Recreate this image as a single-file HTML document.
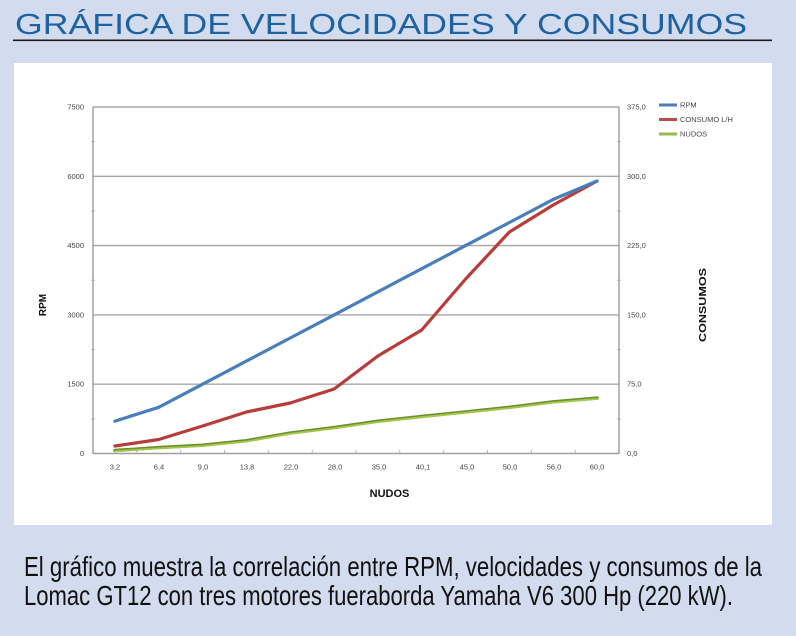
<!DOCTYPE html>
<html><head><meta charset="utf-8"><style>
html,body{margin:0;padding:0;background:#d2dcee;}
svg{display:block;}
</style></head><body>
<svg width="796" height="636" viewBox="0 0 796 636" xmlns="http://www.w3.org/2000/svg">
<rect x="0" y="0" width="796" height="636" fill="#d2dcee"/>
<text x="15" y="34" font-family="Liberation Sans, sans-serif" font-size="29" fill="#1f62a0" textLength="732" lengthAdjust="spacingAndGlyphs">GRÁFICA DE VELOCIDADES Y CONSUMOS</text>
<rect x="13" y="39.5" width="759" height="1.6" fill="#1a1a1a"/>
<rect x="14" y="63" width="758" height="462" fill="#ffffff"/>

<!-- gridlines -->
<g stroke="#a6a6a6" stroke-width="1.4">
<line x1="93" y1="107" x2="619" y2="107"/>
<line x1="93" y1="176.3" x2="619" y2="176.3"/>
<line x1="93" y1="245.6" x2="619" y2="245.6"/>
<line x1="93" y1="314.9" x2="619" y2="314.9"/>
<line x1="93" y1="384.2" x2="619" y2="384.2"/>
</g>
<!-- axes -->
<g stroke="#a0a0a0" stroke-width="1.5">
<line x1="93" y1="107" x2="93" y2="454"/>
<line x1="619" y1="107" x2="619" y2="454"/>
<line x1="93" y1="453.5" x2="619" y2="453.5"/>
</g>
<!-- minor ticks -->
<g stroke="#b5b5b5" stroke-width="1">
<line x1="91" y1="141.6" x2="95" y2="141.6"/><line x1="91" y1="211" x2="95" y2="211"/><line x1="91" y1="280.3" x2="95" y2="280.3"/><line x1="91" y1="349.6" x2="95" y2="349.6"/><line x1="91" y1="418.9" x2="95" y2="418.9"/>
<line x1="617" y1="141.6" x2="621" y2="141.6"/><line x1="617" y1="211" x2="621" y2="211"/><line x1="617" y1="280.3" x2="621" y2="280.3"/><line x1="617" y1="349.6" x2="621" y2="349.6"/><line x1="617" y1="418.9" x2="621" y2="418.9"/>
<line x1="136.8" y1="450" x2="136.8" y2="453"/><line x1="180.7" y1="450" x2="180.7" y2="453"/><line x1="224.5" y1="450" x2="224.5" y2="453"/><line x1="268.3" y1="450" x2="268.3" y2="453"/><line x1="312.2" y1="450" x2="312.2" y2="453"/><line x1="356" y1="450" x2="356" y2="453"/><line x1="399.8" y1="450" x2="399.8" y2="453"/><line x1="443.7" y1="450" x2="443.7" y2="453"/><line x1="487.5" y1="450" x2="487.5" y2="453"/><line x1="531.3" y1="450" x2="531.3" y2="453"/><line x1="575.2" y1="450" x2="575.2" y2="453"/>
</g>

<!-- left tick labels -->
<g font-family="Liberation Sans, sans-serif" font-size="7.5" fill="#444" text-anchor="end">
<text x="84" y="109.5">7500</text>
<text x="84" y="178.8">6000</text>
<text x="84" y="248.1">4500</text>
<text x="84" y="317.4">3000</text>
<text x="84" y="386.7">1500</text>
<text x="84" y="456">0</text>
</g>
<!-- right tick labels -->
<g font-family="Liberation Sans, sans-serif" font-size="7.5" fill="#444">
<text x="627" y="109.5">375,0</text>
<text x="627" y="178.8">300,0</text>
<text x="627" y="248.1">225,0</text>
<text x="627" y="317.4">150,0</text>
<text x="627" y="386.7">75,0</text>
<text x="627" y="456">0,0</text>
</g>
<!-- x labels -->
<g font-family="Liberation Sans, sans-serif" font-size="7.5" fill="#444" text-anchor="middle">
<text x="115" y="469.5">3,2</text>
<text x="159" y="469.5">6,4</text>
<text x="203" y="469.5">9,0</text>
<text x="247" y="469.5">13,8</text>
<text x="291" y="469.5">22,0</text>
<text x="335" y="469.5">28,0</text>
<text x="379" y="469.5">35,0</text>
<text x="423" y="469.5">40,1</text>
<text x="467" y="469.5">45,0</text>
<text x="510" y="469.5">50,0</text>
<text x="554" y="469.5">56,0</text>
<text x="597" y="469.5">60,0</text>
</g>

<!-- axis titles -->
<text x="389.5" y="497" font-family="Liberation Sans, sans-serif" font-size="11" font-weight="bold" fill="#111" text-anchor="middle">NUDOS</text>
<text transform="translate(46,305) rotate(-90)" font-family="Liberation Sans, sans-serif" font-size="10" font-weight="bold" fill="#111" text-anchor="middle">RPM</text>
<text transform="translate(706,305) rotate(-90)" font-family="Liberation Sans, sans-serif" font-size="10" font-weight="bold" fill="#111" text-anchor="middle" textLength="74" lengthAdjust="spacingAndGlyphs">CONSUMOS</text>

<!-- series -->
<g fill="none" stroke-linejoin="round" stroke-linecap="round">
<polyline stroke="#6f8f2e" stroke-width="3.4" points="114.9,450.5 158.7,447.6 202.6,445.2 246.4,440.7 290.2,433 334.1,427.6 377.9,421.2 421.7,416.4 465.6,411.9 509.4,407.3 553.2,401.8 597.1,398.1"/>
<polyline stroke="#a3c94a" stroke-width="1.8" points="114.9,451.3 158.7,448.4 202.6,446 246.4,441.5 290.2,433.8 334.1,428.4 377.9,422 421.7,417.2 465.6,412.7 509.4,408.1 553.2,402.6 597.1,398.9"/>
<polyline stroke="#b73c3a" stroke-width="3.2" points="114.9,446 158.7,439.5 202.6,426 246.4,412 290.2,403 334.1,389 377.9,356 421.7,330 465.6,279 509.4,232 553.2,205 597.1,181"/>
<polyline stroke="#4a7ebb" stroke-width="3.2" points="114.9,421.2 158.7,407.3 202.6,384.2 246.4,361.1 290.2,338 334.1,314.9 377.9,291.8 421.7,268.7 465.6,245.6 509.4,222.5 553.2,199.4 597.1,181"/>
</g>

<!-- legend -->
<g stroke-width="3">
<line x1="659" y1="105" x2="677" y2="105" stroke="#4a7ebb"/>
<line x1="659" y1="119.5" x2="677" y2="119.5" stroke="#be4b48"/>
<line x1="659" y1="134" x2="677" y2="134" stroke="#98b954"/>
</g>
<g font-family="Liberation Sans, sans-serif" font-size="7.5" fill="#444">
<text x="680" y="107.5">RPM</text>
<text x="680" y="122">CONSUMO L/H</text>
<text x="680" y="136.5">NUDOS</text>
</g>

<!-- caption -->
<g font-family="Liberation Sans Narrow, Liberation Sans, sans-serif" font-size="28" fill="#111">
<text x="24" y="576" textLength="738" lengthAdjust="spacingAndGlyphs">El gráfico muestra la correlación entre RPM, velocidades y consumos de la</text>
<text x="24" y="605" textLength="709" lengthAdjust="spacingAndGlyphs">Lomac GT12 con tres motores fueraborda Yamaha V6 300 Hp (220 kW).</text>
</g>
</svg>
</body></html>
